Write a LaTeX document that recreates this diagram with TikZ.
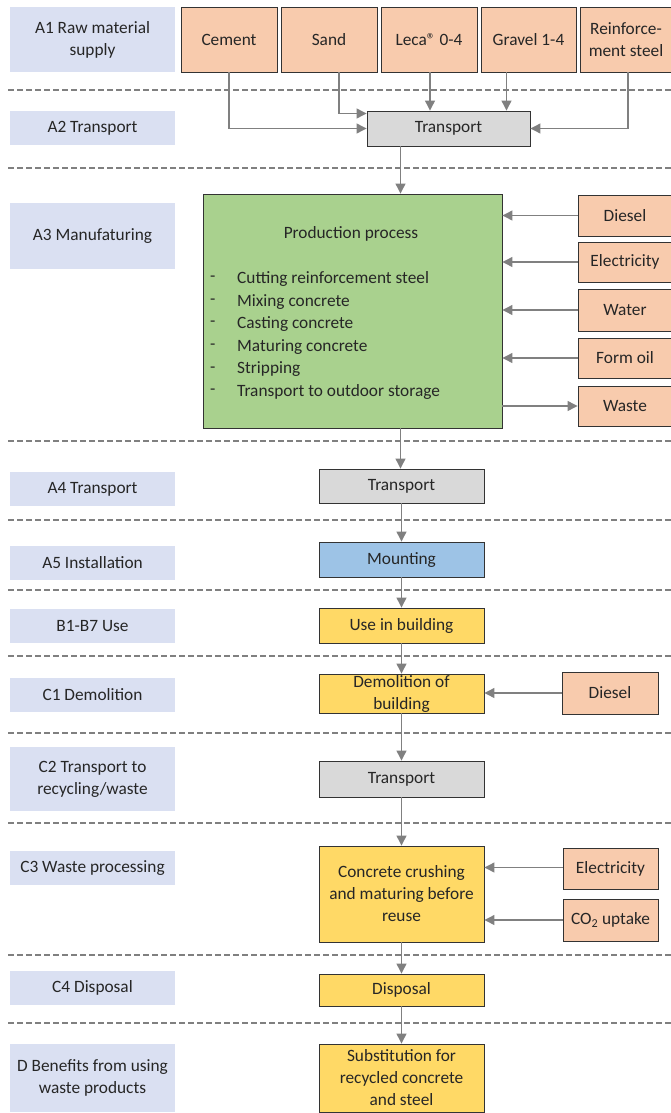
\documentclass[tikz,border=0pt]{standalone}
\usepackage{fontspec}
\setmainfont{Carlito}
\usetikzlibrary{arrows.meta}
\definecolor{stagecol}{HTML}{DAE0F2}
\definecolor{inputcol}{HTML}{F8CBAD}
\definecolor{transcol}{HTML}{D9D9D9}
\definecolor{prodcol}{HTML}{A9D18E}
\definecolor{mountcol}{HTML}{9DC3E6}
\definecolor{eolcol}{HTML}{FFD966}
\definecolor{linecol}{HTML}{808080}
\tikzset{
	every node/.style={font=\fontsize{17.3pt}{22pt}\selectfont, text=black!85},
	stage/.style={fill=stagecol, minimum width=165pt, align=center, inner sep=0pt},
	box/.style={draw=black!80, line width=0.9pt, align=center, inner sep=0pt},
	inbox/.style={box, fill=inputcol},
	midbox/.style={box, minimum width=165pt},
	flow/.style={draw=linecol, line width=1.2pt, -{Triangle[length=10pt,width=10pt]}},
	sep/.style={draw=linecol, line width=1.1pt, dash pattern=on 6pt off 3pt}
}

\begin{document}
\begin{tikzpicture}[x=1pt, y=-1pt]
			%%%%% START %%%%%
			\useasboundingbox (0,0) rectangle (671,1113);
			
			% life cycle stages
			\node[stage, minimum height=65pt] (sA1) at (92.5,39.5) {A1 Raw material\\supply};
			\node[stage, minimum height=34pt] (sA2) at (92.5,128) {A2 Transport};
			\node[stage, minimum height=66pt] (sA3) at (92.5,236) {A3 Manufaturing};
			\node[stage, minimum height=34pt] (sA4) at (92.5,489) {A4 Transport};
			\node[stage, minimum height=34pt] (sA5) at (92.5,563) {A5 Installation};
			\node[stage, minimum height=34pt] (sB) at (92.5,626) {B1-B7 Use};
			\node[stage, minimum height=34pt] (sC1) at (92.5,695) {C1 Demolition};
			\node[stage, minimum height=64pt] (sC2) at (92.5,779) {C2 Transport to\\recycling/waste};
			\node[stage, minimum height=34pt] (sC3) at (92.5,868) {C3 Waste processing};
			\node[stage, minimum height=34pt] (sC4) at (92.5,988) {C4 Disposal};
			\node[stage, minimum height=68pt] (sD) at (92.5,1078) {D Benefits from using\\waste products};
			
			\foreach \y in {90,168,441,520,590,656,733,823,955,1023}
				\draw[sep] (8,\y) -- (671,\y);
			
			% raw materials
			\node[inbox, minimum width=96pt, minimum height=65pt] (cement) at (229,39.5) {Cement};
			\node[inbox, minimum width=96pt, minimum height=65pt] (sand) at (329,39.5) {Sand};
			\node[inbox, minimum width=96pt, minimum height=65pt] (leca) at (429,39.5) {Leca® 0-4};
			\node[inbox, minimum width=95pt, minimum height=65pt] (gravel) at (528.5,39.5) {Gravel 1-4};
			\node[inbox, minimum width=92pt, minimum height=65pt] (steel) at (626,39.5) {Reinforce-\\ment steel};
			
			\node[box, fill=transcol, minimum width=163pt, minimum height=35pt] (trans1) at (448.5,128.5) {Transport};
			
			\coordinate (sandout) at ([xshift=10pt]sand.south);
			\coordinate (lecaout) at ([xshift=1pt]leca.south);
			\coordinate (gravelout) at ([xshift=-22pt]gravel.south);
			\coordinate (steelout) at ([xshift=2pt]steel.south);
			\draw[flow] (cement.south) |- (trans1.west);
			\draw[flow] (sandout) |- ([yshift=15pt]trans1.west);
			\draw[flow] (lecaout) -- (lecaout |- trans1.north);
			\draw[flow] (gravelout) -- (gravelout |- trans1.north);
			\draw[flow] (steelout) |- (trans1.east);
			
			% manufacturing
			\node[box, fill=prodcol, minimum width=299pt, minimum height=234pt] (prod) at (352.5,311) {};
			\node (prodtitle) at (351,234) {Production process};
			\foreach \task [count=\i from 0] in {Cutting reinforcement steel, Mixing concrete, Casting concrete, Maturing concrete, Stripping, Transport to outdoor storage} {
				\node[anchor=west, inner xsep=0pt] (dash\i) at (210,279+22.6*\i) {-};
				\node[anchor=west, inner xsep=0pt] (task\i) at (237,279+22.6*\i) {\task};
			}
			
			\coordinate (spine) at (400.5,0);
			\draw[flow] (trans1.south -| spine) -- (prod.north -| spine);
			
			\node[inbox, minimum width=94pt, minimum height=41pt] (diesel1) at (625,215.5) {Diesel};
			\node[inbox, minimum width=94pt, minimum height=40pt] (elec1) at (625,262) {Electricity};
			\node[inbox, minimum width=94pt, minimum height=42pt] (water) at (625,310) {Water};
			\node[inbox, minimum width=94pt, minimum height=40pt] (formoil) at (625,358) {Form oil};
			\node[inbox, minimum width=94pt, minimum height=40pt] (waste) at (625,406) {Waste};
			
			\foreach \src in {diesel1, elec1, water, formoil}
				\draw[flow] (\src.west) -- (\src.west -| prod.east);
			\draw[flow] (prod.east |- waste.west) -- (waste.west);
			
			% use and end of life
			\node[midbox, fill=transcol, minimum height=34pt] (trans2) at (401.5,486) {Transport};
			\node[midbox, fill=mountcol, minimum height=35pt] (mount) at (401.5,559.5) {Mounting};
			\node[midbox, fill=eolcol, minimum height=35pt] (use) at (401.5,625.5) {Use in building};
			\node[midbox, fill=eolcol, minimum height=39pt, inner ysep=0pt] (demol) at (401.5,693.5) {Demolition of\\building};
			\node[midbox, fill=transcol, minimum height=36pt] (trans3) at (401.5,779) {Transport};
			\node[midbox, fill=eolcol, minimum height=96pt] (crush) at (401.5,894) {Concrete crushing\\and maturing before\\reuse};
			\node[midbox, fill=eolcol, minimum height=32pt] (disp) at (401.5,990) {Disposal};
			\node[midbox, fill=eolcol, minimum height=68pt] (subst) at (401.5,1078) {Substitution for\\recycled concrete\\and steel};
			
			\draw[flow] (prod.south -| spine) -- (trans2.north -| spine);
			\foreach \a/\b in {trans2/mount, mount/use, use/demol, demol/trans3, trans3/crush, crush/disp, disp/subst}
				\draw[flow] (\a.south) -- (\b.north);
			
			\node[inbox, minimum width=96pt, minimum height=42pt] (diesel2) at (610,693) {Diesel};
			\node[inbox, minimum width=95pt, minimum height=41pt] (elec2) at (610.5,868.5) {Electricity};
			\node[inbox, minimum width=95pt, minimum height=42pt] (co2) at (610.5,920) {CO\textsubscript{2} uptake};
			
			\draw[flow] (diesel2.west) -- (diesel2.west -| demol.east);
			\draw[flow] ([yshift=1pt]elec2.west) -- ([yshift=1pt]elec2.west -| crush.east);
			\draw[flow] (co2.west) -- (co2.west -| crush.east);
			
			%%%%% END %%%%%
\end{tikzpicture}
\end{document}
